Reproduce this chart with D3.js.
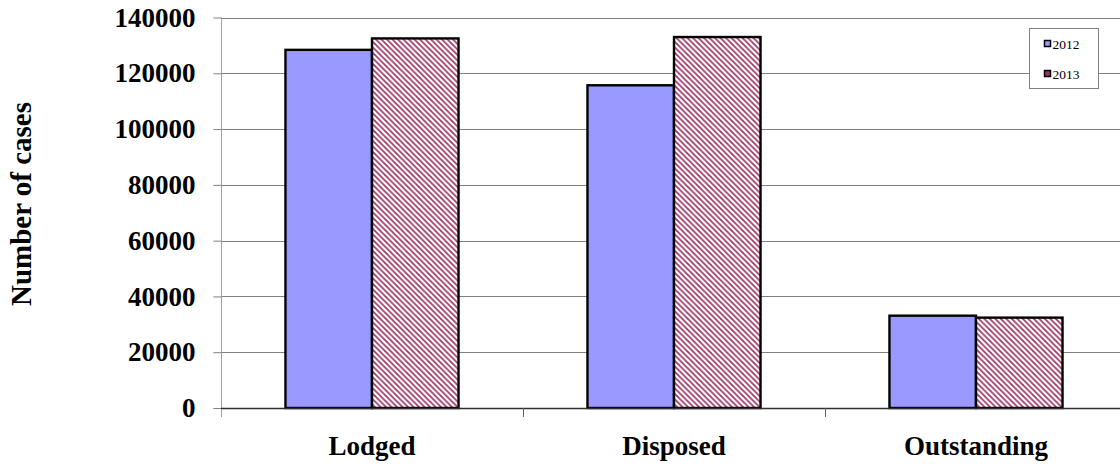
<!DOCTYPE html>
<html><head><meta charset="utf-8">
<script src="https://cdn.jsdelivr.net/npm/d3@7"></script>
<style>body{margin:0;background:#fff}svg{display:block}text{font-family:"Liberation Serif","Times New Roman",serif}</style>
</head><body><svg id="c" width="1120" height="466"></svg>
<script>
const categories = ["Lodged", "Disposed", "Outstanding"];
const seriesNames = ["2012", "2013"];
const values2012 = [128400, 115700, 33100];
const values2013 = [132500, 133000, 32400];
const yTicks = [0, 20000, 40000, 60000, 80000, 100000, 120000, 140000];

(function(){
const svg = d3.select("#c");
const defs = svg.append("defs");
const pat = defs.append("pattern").attr("id","hatch").attr("patternUnits","userSpaceOnUse")
  .attr("width",5.5).attr("height",5.5);
pat.append("rect").attr("width",5.5).attr("height",5.5).attr("fill","#fff");
pat.append("path").attr("d","M-1,-1 L6.5,6.5 M-4,1.5 L1.5,7 M4,-1.5 L7,1.5")
  .attr("stroke","#993366").attr("stroke-width",1.7);

const pLeft = 221, pTop = 17.5, pBottom = 408, pRight = 1127;
const y = d3.scaleLinear().domain([0,140000]).range([pBottom, pTop]);
const x0 = d3.scaleBand().domain(categories).range([pLeft, pRight]).padding(0);
const x1 = d3.scaleBand().domain(seriesNames).range([0, x0.bandwidth()]).paddingInner(0).paddingOuter(0.745);

// gridlines
svg.append("g").selectAll("line").data(yTicks.filter(d=>d>0)).join("line")
  .attr("x1", pLeft).attr("x2", 1120).attr("y1", d=>Math.round(y(d))+0.5).attr("y2", d=>Math.round(y(d))+0.5)
  .attr("stroke","#808080").attr("stroke-width",1);

// y axis
const yAxis = d3.axisLeft(y).tickValues(yTicks).tickSize(8).tickPadding(18).tickFormat(d3.format("d"));
const ga = svg.append("g").attr("transform",`translate(${pLeft+0.5},0)`).call(yAxis);
ga.select(".domain").attr("stroke","#a0a0a0").attr("d",`M0,${pTop}V${pBottom+9}`);
ga.selectAll(".tick line").attr("stroke","#808080");
ga.selectAll(".tick text").style("font-size","27px").attr("font-weight","bold").attr("fill","#000");

// bars
const data = categories.map((c,i)=>({cat:c, vals:[{s:"2012",v:values2012[i]},{s:"2013",v:values2013[i]}]}));
const groups = svg.append("g").selectAll("g").data(data).join("g")
  .attr("transform", d=>`translate(${x0(d.cat)},0)`);
groups.selectAll("rect").data(d=>d.vals).join("rect")
  .attr("x", d=>x1(d.s)).attr("width", x1.bandwidth())
  .attr("y", d=>y(d.v)).attr("height", d=>pBottom - y(d.v))
  .attr("fill", d=>d.s==="2012" ? "#9999ff" : "url(#hatch)")
  .attr("stroke","#000").attr("stroke-width",2.4);

// x axis
const xAxis = d3.axisBottom(x0).tickSize(0).tickPadding(27);
const gx = svg.append("g").attr("transform",`translate(0,${pBottom+0.5})`).call(xAxis);
gx.select(".domain").attr("stroke","#303030").attr("stroke-width",1.5).attr("d",`M${pLeft},0H1120`);
gx.selectAll(".tick text").style("font-size","27px").attr("font-weight","bold").attr("fill","#000");
svg.append("g").selectAll("line").data(categories.slice(1)).join("line")
  .attr("x1", d=>Math.round(x0(d))+0.5).attr("x2", d=>Math.round(x0(d))+0.5)
  .attr("y1", pBottom).attr("y2", pBottom+9).attr("stroke","#606060");

// y title
svg.append("text").attr("transform","translate(31,204) rotate(-90)").attr("text-anchor","middle")
  .style("font-size","29px").attr("font-weight","bold").text("Number of cases");

// legend
const lg = svg.append("g").attr("transform","translate(1029.5,28.5)");
lg.append("rect").attr("width",69).attr("height",60).attr("fill","#fff").attr("stroke","#808080");
const colors = ["#9999ff","#993366"];
seriesNames.forEach((s,i)=>{
  const yy = 15 + i*30;
  lg.append("rect").attr("x",15).attr("y",yy-3).attr("width",6).attr("height",6)
    .attr("fill",colors[i]).attr("stroke","#000").attr("stroke-width",1.5);
  lg.append("text").attr("x",23).attr("y",yy+5).style("font-size","13.5px").text(s);
});
})();
</script></body></html>
